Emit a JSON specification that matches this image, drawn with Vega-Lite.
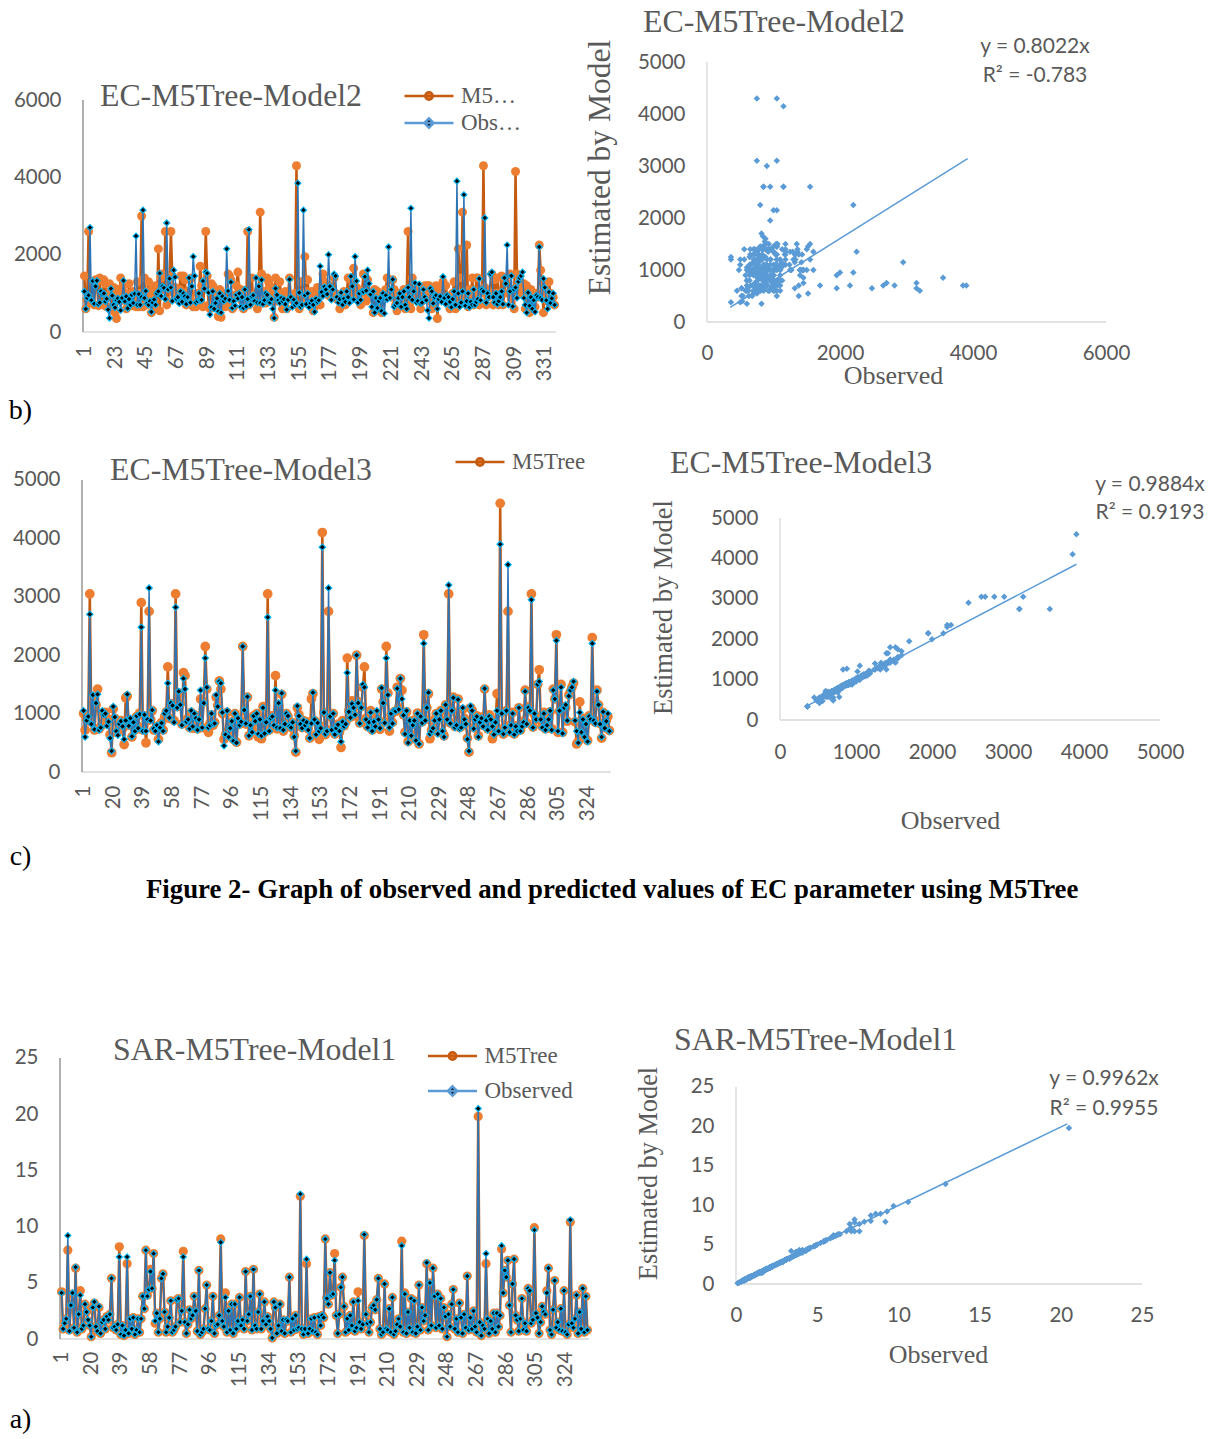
{
"$schema": "https://vega.github.io/schema/vega-lite/v6.json",
"background": "#ffffff",
"padding": 0,
"columns": 5,
"spacing": 0,
"bounds": "flush",
"align": "each",
"resolve": {"scale": {"shape": "independent", "fill": "independent", "stroke": "independent"}, "legend": {"shape": "independent", "fill": "independent", "stroke": "independent"}},
"config": {
 "view": {"stroke": null},
 "axis": {"grid": false, "ticks": false, "domain": false, "labelFont": "Lato", "labelFontSize": 20.5, "labelColor": "#595959", "titleFont": "Liberation Serif", "titleFontWeight": "normal", "titleColor": "#595959", "labelPadding": 22, "format": "d", "labelOverlap": false, "labelFlush": false, "labelBound": false},
 "legend": {"labelFont": "Liberation Serif", "labelFontSize": 23, "labelColor": "#595959", "padding": 0, "rowPadding": 0, "labelOffset": 6, "symbolSize": 2401, "offset": 0, "symbolStrokeWidth": 2.5}
},
"datasets": {
 "tb": [{"obs": 349, "fit": 280}, {"obs": 3919, "fit": 3144}],
 "tc": [{"obs": 380, "fit": 376}, {"obs": 3900, "fit": 3855}],
 "ta": [{"obs": 0.05, "fit": 0.05}, {"obs": 20.4, "fit": 20.32}],
 "d": [
{"idx":1,"ec":1050,"m2":1450,"m3":1000,"sar":4.1,"sm":4.2},
{"idx":2,"ec":600,"m2":600,"m3":720,"sar":0.9,"sm":0.9},
{"idx":3,"ec":880,"m2":820,"m3":900,"sar":1.4,"sm":1.5},
{"idx":4,"ec":950,"m2":2600,"m3":880,"sar":1.8,"sm":1.8},
{"idx":5,"ec":2700,"m2":750,"m3":3050,"sar":9.2,"sm":7.9},
{"idx":6,"ec":820,"m2":900,"m3":860,"sar":0.7,"sm":0.8},
{"idx":7,"ec":1320,"m2":1300,"m3":1250,"sar":3.0,"sm":3.0},
{"idx":8,"ec":730,"m2":700,"m3":720,"sar":4.1,"sm":4.0},
{"idx":9,"ec":1180,"m2":1350,"m3":1150,"sar":1.0,"sm":1.0},
{"idx":10,"ec":1330,"m2":1300,"m3":1420,"sar":6.4,"sm":6.3},
{"idx":11,"ec":720,"m2":680,"m3":740,"sar":0.6,"sm":0.6},
{"idx":12,"ec":760,"m2":1400,"m3":780,"sar":2.2,"sm":2.2},
{"idx":13,"ec":1050,"m2":720,"m3":1000,"sar":3.9,"sm":4.3},
{"idx":14,"ec":980,"m2":700,"m3":960,"sar":0.9,"sm":0.9},
{"idx":15,"ec":1000,"m2":1350,"m3":1020,"sar":1.2,"sm":1.2},
{"idx":16,"ec":790,"m2":1250,"m3":830,"sar":3.1,"sm":3.1},
{"idx":17,"ec":860,"m2":650,"m3":900,"sar":2.4,"sm":2.4},
{"idx":18,"ec":580,"m2":900,"m3":640,"sar":1.7,"sm":1.6},
{"idx":19,"ec":360,"m2":1250,"m3":330,"sar":1.2,"sm":1.2},
{"idx":20,"ec":1120,"m2":1050,"m3":1080,"sar":0.2,"sm":0.2},
{"idx":21,"ec":940,"m2":600,"m3":920,"sar":2.8,"sm":2.8},
{"idx":22,"ec":700,"m2":1150,"m3":680,"sar":3.3,"sm":3.2},
{"idx":23,"ec":630,"m2":500,"m3":700,"sar":1.1,"sm":1.1},
{"idx":24,"ec":820,"m2":350,"m3":800,"sar":0.7,"sm":0.7},
{"idx":25,"ec":870,"m2":1100,"m3":880,"sar":2.9,"sm":2.8},
{"idx":26,"ec":780,"m2":950,"m3":740,"sar":0.5,"sm":0.5},
{"idx":27,"ec":560,"m2":1400,"m3":470,"sar":1.5,"sm":1.5},
{"idx":28,"ec":880,"m2":820,"m3":1270,"sar":1.7,"sm":1.7},
{"idx":29,"ec":1330,"m2":1200,"m3":1300,"sar":0.9,"sm":0.9},
{"idx":30,"ec":790,"m2":1000,"m3":800,"sar":2.0,"sm":2.0},
{"idx":31,"ec":920,"m2":600,"m3":880,"sar":1.7,"sm":1.7},
{"idx":32,"ec":610,"m2":650,"m3":600,"sar":2.2,"sm":2.2},
{"idx":33,"ec":850,"m2":1250,"m3":860,"sar":5.4,"sm":5.4},
{"idx":34,"ec":700,"m2":1000,"m3":720,"sar":1.0,"sm":1.0},
{"idx":35,"ec":960,"m2":680,"m3":950,"sar":1.1,"sm":1.1},
{"idx":36,"ec":750,"m2":1050,"m3":780,"sar":0.8,"sm":0.8},
{"idx":37,"ec":990,"m2":900,"m3":1010,"sar":1.3,"sm":1.3},
{"idx":38,"ec":2480,"m2":650,"m3":2900,"sar":7.3,"sm":8.2},
{"idx":39,"ec":700,"m2":1300,"m3":720,"sar":0.4,"sm":0.4},
{"idx":40,"ec":980,"m2":650,"m3":960,"sar":1.2,"sm":1.2},
{"idx":41,"ec":700,"m2":1000,"m3":500,"sar":0.3,"sm":0.3},
{"idx":42,"ec":900,"m2":3000,"m3":880,"sar":0.8,"sm":0.8},
{"idx":43,"ec":3150,"m2":650,"m3":2750,"sar":7.3,"sm":6.7},
{"idx":44,"ec":880,"m2":1400,"m3":900,"sar":0.5,"sm":0.5},
{"idx":45,"ec":1060,"m2":700,"m3":1050,"sar":1.8,"sm":1.8},
{"idx":46,"ec":740,"m2":1050,"m3":720,"sar":0.9,"sm":0.9},
{"idx":47,"ec":700,"m2":1300,"m3":720,"sar":1.9,"sm":1.9},
{"idx":48,"ec":800,"m2":900,"m3":780,"sar":0.4,"sm":0.4},
{"idx":49,"ec":520,"m2":500,"m3":560,"sar":0.8,"sm":0.8},
{"idx":50,"ec":760,"m2":1100,"m3":780,"sar":1.8,"sm":1.8},
{"idx":51,"ec":840,"m2":800,"m3":850,"sar":0.6,"sm":0.6},
{"idx":52,"ec":700,"m2":1200,"m3":720,"sar":1.8,"sm":1.8},
{"idx":53,"ec":1000,"m2":600,"m3":950,"sar":3.8,"sm":3.8},
{"idx":54,"ec":1050,"m2":2150,"m3":1030,"sar":2.7,"sm":2.7},
{"idx":55,"ec":1520,"m2":550,"m3":1800,"sar":7.9,"sm":7.9},
{"idx":56,"ec":930,"m2":1400,"m3":920,"sar":3.8,"sm":3.9},
{"idx":57,"ec":1180,"m2":1500,"m3":1170,"sar":4.4,"sm":4.4},
{"idx":58,"ec":1140,"m2":1100,"m3":1150,"sar":6.0,"sm":6.2},
{"idx":59,"ec":850,"m2":2600,"m3":880,"sar":4.5,"sm":4.5},
{"idx":60,"ec":2820,"m2":700,"m3":3050,"sar":7.6,"sm":7.6},
{"idx":61,"ec":1100,"m2":800,"m3":1120,"sar":1.6,"sm":1.4},
{"idx":62,"ec":1380,"m2":1300,"m3":1350,"sar":2.3,"sm":2.3},
{"idx":63,"ec":1150,"m2":2600,"m3":1170,"sar":0.6,"sm":0.6},
{"idx":64,"ec":800,"m2":1450,"m3":820,"sar":1.8,"sm":1.8},
{"idx":65,"ec":1600,"m2":1000,"m3":1700,"sar":5.4,"sm":5.4},
{"idx":66,"ec":1420,"m2":1150,"m3":1650,"sar":5.8,"sm":5.8},
{"idx":67,"ec":860,"m2":1050,"m3":900,"sar":2.4,"sm":2.4},
{"idx":68,"ec":900,"m2":850,"m3":870,"sar":0.6,"sm":0.6},
{"idx":69,"ec":740,"m2":1100,"m3":760,"sar":1.1,"sm":1.1},
{"idx":70,"ec":1050,"m2":1450,"m3":1020,"sar":1.9,"sm":1.9},
{"idx":71,"ec":780,"m2":900,"m3":750,"sar":3.4,"sm":3.4},
{"idx":72,"ec":1000,"m2":1450,"m3":980,"sar":0.6,"sm":0.6},
{"idx":73,"ec":920,"m2":1350,"m3":900,"sar":0.8,"sm":0.8},
{"idx":74,"ec":720,"m2":700,"m3":740,"sar":1.1,"sm":1.1},
{"idx":75,"ec":900,"m2":1050,"m3":880,"sar":3.5,"sm":3.5},
{"idx":76,"ec":1400,"m2":900,"m3":1250,"sar":3.6,"sm":3.6},
{"idx":77,"ec":760,"m2":850,"m3":760,"sar":1.5,"sm":1.5},
{"idx":78,"ec":1180,"m2":1400,"m3":1200,"sar":2.5,"sm":2.5},
{"idx":79,"ec":1950,"m2":650,"m3":2150,"sar":7.3,"sm":7.8},
{"idx":80,"ec":1450,"m2":750,"m3":1420,"sar":1.5,"sm":1.5},
{"idx":81,"ec":760,"m2":650,"m3":680,"sar":0.5,"sm":0.5},
{"idx":82,"ec":800,"m2":1000,"m3":830,"sar":1.3,"sm":1.3},
{"idx":83,"ec":1000,"m2":800,"m3":980,"sar":2.6,"sm":2.6},
{"idx":84,"ec":820,"m2":1700,"m3":800,"sar":1.8,"sm":1.8},
{"idx":85,"ec":830,"m2":1200,"m3":850,"sar":2.1,"sm":2.1},
{"idx":86,"ec":1320,"m2":650,"m3":1280,"sar":3.8,"sm":3.8},
{"idx":87,"ec":1120,"m2":1150,"m3":1140,"sar":2.5,"sm":2.5},
{"idx":88,"ec":1550,"m2":2600,"m3":1560,"sar":0.7,"sm":0.7},
{"idx":89,"ec":1520,"m2":1450,"m3":1420,"sar":6.1,"sm":6.1},
{"idx":90,"ec":1020,"m2":700,"m3":1000,"sar":0.4,"sm":0.4},
{"idx":91,"ec":450,"m2":600,"m3":560,"sar":0.6,"sm":0.6},
{"idx":92,"ec":640,"m2":1250,"m3":640,"sar":0.9,"sm":0.9},
{"idx":93,"ec":1050,"m2":1200,"m3":1020,"sar":2.7,"sm":2.7},
{"idx":94,"ec":600,"m2":700,"m3":620,"sar":4.8,"sm":4.8},
{"idx":95,"ec":750,"m2":900,"m3":760,"sar":0.9,"sm":0.9},
{"idx":96,"ec":870,"m2":1000,"m3":860,"sar":0.8,"sm":0.8},
{"idx":97,"ec":530,"m2":400,"m3":560,"sar":1.6,"sm":1.6},
{"idx":98,"ec":1000,"m2":1100,"m3":1000,"sar":3.8,"sm":3.8},
{"idx":99,"ec":500,"m2":380,"m3":510,"sar":0.5,"sm":0.5},
{"idx":100,"ec":920,"m2":1000,"m3":900,"sar":1.2,"sm":1.2},
{"idx":101,"ec":800,"m2":850,"m3":820,"sar":1.3,"sm":1.3},
{"idx":102,"ec":860,"m2":650,"m3":870,"sar":2.1,"sm":2.1},
{"idx":103,"ec":2150,"m2":700,"m3":2150,"sar":8.6,"sm":8.9},
{"idx":104,"ec":1060,"m2":1500,"m3":1050,"sar":1.6,"sm":1.6},
{"idx":105,"ec":830,"m2":1450,"m3":820,"sar":1.1,"sm":1.1},
{"idx":106,"ec":1290,"m2":1350,"m3":1280,"sar":3.7,"sm":4.1},
{"idx":107,"ec":620,"m2":600,"m3":620,"sar":0.6,"sm":0.6},
{"idx":108,"ec":800,"m2":650,"m3":820,"sar":2.5,"sm":2.5},
{"idx":109,"ec":680,"m2":950,"m3":720,"sar":0.8,"sm":0.8},
{"idx":110,"ec":960,"m2":1200,"m3":960,"sar":3.1,"sm":3.1},
{"idx":111,"ec":870,"m2":1550,"m3":860,"sar":0.5,"sm":0.5},
{"idx":112,"ec":1000,"m2":1000,"m3":1000,"sar":3.1,"sm":3.1},
{"idx":113,"ec":650,"m2":1100,"m3":600,"sar":0.9,"sm":0.9},
{"idx":114,"ec":900,"m2":800,"m3":920,"sar":1.6,"sm":1.6},
{"idx":115,"ec":620,"m2":600,"m3":570,"sar":3.7,"sm":3.7},
{"idx":116,"ec":1100,"m2":1000,"m3":1120,"sar":1.2,"sm":1.2},
{"idx":117,"ec":660,"m2":700,"m3":680,"sar":1.7,"sm":1.7},
{"idx":118,"ec":850,"m2":2600,"m3":860,"sar":0.9,"sm":0.9},
{"idx":119,"ec":2650,"m2":700,"m3":3050,"sar":6.0,"sm":6.0},
{"idx":120,"ec":700,"m2":950,"m3":720,"sar":1.6,"sm":1.6},
{"idx":121,"ec":920,"m2":1400,"m3":900,"sar":2.2,"sm":2.2},
{"idx":122,"ec":950,"m2":800,"m3":960,"sar":3.8,"sm":3.8},
{"idx":123,"ec":800,"m2":900,"m3":780,"sar":0.8,"sm":0.8},
{"idx":124,"ec":1400,"m2":1000,"m3":1650,"sar":6.2,"sm":6.2},
{"idx":125,"ec":760,"m2":600,"m3":740,"sar":1.2,"sm":1.2},
{"idx":126,"ec":1180,"m2":1100,"m3":1150,"sar":0.9,"sm":0.9},
{"idx":127,"ec":750,"m2":3100,"m3":760,"sar":2.4,"sm":2.4},
{"idx":128,"ec":1350,"m2":1500,"m3":1330,"sar":4.0,"sm":4.0},
{"idx":129,"ec":720,"m2":750,"m3":700,"sar":0.9,"sm":0.9},
{"idx":130,"ec":820,"m2":1050,"m3":800,"sar":1.6,"sm":1.6},
{"idx":131,"ec":1000,"m2":750,"m3":1000,"sar":3.3,"sm":3.3},
{"idx":132,"ec":960,"m2":1400,"m3":950,"sar":1.3,"sm":1.3},
{"idx":133,"ec":780,"m2":1300,"m3":790,"sar":2.0,"sm":2.0},
{"idx":134,"ec":760,"m2":1200,"m3":760,"sar":1.6,"sm":1.6},
{"idx":135,"ec":850,"m2":900,"m3":840,"sar":0.9,"sm":0.9},
{"idx":136,"ec":600,"m2":1050,"m3":620,"sar":0.1,"sm":0.1},
{"idx":137,"ec":360,"m2":380,"m3":340,"sar":3.3,"sm":3.3},
{"idx":138,"ec":1130,"m2":1400,"m3":1100,"sar":2.8,"sm":2.8},
{"idx":139,"ec":960,"m2":800,"m3":980,"sar":0.5,"sm":0.5},
{"idx":140,"ec":820,"m2":1000,"m3":810,"sar":1.2,"sm":1.2},
{"idx":141,"ec":750,"m2":1300,"m3":760,"sar":3.1,"sm":3.1},
{"idx":142,"ec":880,"m2":900,"m3":880,"sar":0.7,"sm":0.7},
{"idx":143,"ec":800,"m2":600,"m3":790,"sar":1.7,"sm":1.7},
{"idx":144,"ec":850,"m2":850,"m3":860,"sar":0.5,"sm":0.5},
{"idx":145,"ec":720,"m2":1050,"m3":740,"sar":1.7,"sm":1.6},
{"idx":146,"ec":580,"m2":600,"m3":580,"sar":1.6,"sm":1.6},
{"idx":147,"ec":830,"m2":1000,"m3":1250,"sar":5.5,"sm":5.5},
{"idx":148,"ec":1360,"m2":1400,"m3":1340,"sar":0.6,"sm":0.6},
{"idx":149,"ec":900,"m2":850,"m3":880,"sar":1.8,"sm":1.8},
{"idx":150,"ec":640,"m2":900,"m3":640,"sar":0.8,"sm":0.8},
{"idx":151,"ec":840,"m2":800,"m3":830,"sar":2.1,"sm":2.1},
{"idx":152,"ec":700,"m2":1000,"m3":560,"sar":0.9,"sm":0.9},
{"idx":153,"ec":750,"m2":4300,"m3":780,"sar":1.0,"sm":1.0},
{"idx":154,"ec":3850,"m2":700,"m3":4100,"sar":12.9,"sm":12.7},
{"idx":155,"ec":1020,"m2":600,"m3":1020,"sar":0.9,"sm":0.9},
{"idx":156,"ec":650,"m2":1300,"m3":640,"sar":0.4,"sm":0.4},
{"idx":157,"ec":700,"m2":1000,"m3":720,"sar":0.9,"sm":0.9},
{"idx":158,"ec":3150,"m2":750,"m3":2750,"sar":7.1,"sm":6.7},
{"idx":159,"ec":950,"m2":1950,"m3":950,"sar":0.5,"sm":0.5},
{"idx":160,"ec":720,"m2":1050,"m3":700,"sar":0.9,"sm":0.9},
{"idx":161,"ec":1000,"m2":1350,"m3":1000,"sar":1.8,"sm":1.8},
{"idx":162,"ec":640,"m2":800,"m3":650,"sar":0.7,"sm":0.7},
{"idx":163,"ec":750,"m2":900,"m3":760,"sar":1.9,"sm":1.9},
{"idx":164,"ec":810,"m2":1050,"m3":820,"sar":0.6,"sm":0.6},
{"idx":165,"ec":700,"m2":550,"m3":680,"sar":0.4,"sm":0.4},
{"idx":166,"ec":520,"m2":650,"m3":420,"sar":2.0,"sm":2.0},
{"idx":167,"ec":860,"m2":900,"m3":880,"sar":1.2,"sm":1.2},
{"idx":168,"ec":780,"m2":1150,"m3":790,"sar":2.1,"sm":2.1},
{"idx":169,"ec":820,"m2":1000,"m3":850,"sar":1.9,"sm":1.9},
{"idx":170,"ec":1700,"m2":700,"m3":1950,"sar":8.9,"sm":8.9},
{"idx":171,"ec":1030,"m2":1100,"m3":1050,"sar":3.6,"sm":3.7},
{"idx":172,"ec":930,"m2":1500,"m3":940,"sar":3.1,"sm":3.1},
{"idx":173,"ec":1170,"m2":1300,"m3":1220,"sar":5.9,"sm":5.9},
{"idx":174,"ec":1100,"m2":1200,"m3":1100,"sar":3.9,"sm":3.9},
{"idx":175,"ec":980,"m2":1000,"m3":960,"sar":4.0,"sm":4.0},
{"idx":176,"ec":2000,"m2":950,"m3":2000,"sar":7.0,"sm":7.6},
{"idx":177,"ec":1180,"m2":1200,"m3":1200,"sar":2.1,"sm":2.1},
{"idx":178,"ec":830,"m2":900,"m3":840,"sar":0.5,"sm":0.5},
{"idx":179,"ec":1100,"m2":1050,"m3":1120,"sar":2.2,"sm":2.2},
{"idx":180,"ec":1500,"m2":1400,"m3":1450,"sar":4.6,"sm":4.6},
{"idx":181,"ec":1450,"m2":1000,"m3":1800,"sar":5.5,"sm":5.5},
{"idx":182,"ec":900,"m2":850,"m3":920,"sar":2.9,"sm":2.9},
{"idx":183,"ec":760,"m2":900,"m3":780,"sar":0.6,"sm":0.6},
{"idx":184,"ec":850,"m2":600,"m3":870,"sar":1.8,"sm":1.8},
{"idx":185,"ec":1020,"m2":700,"m3":1050,"sar":0.8,"sm":0.8},
{"idx":186,"ec":700,"m2":900,"m3":720,"sar":2.1,"sm":2.1},
{"idx":187,"ec":860,"m2":1050,"m3":880,"sar":1.2,"sm":1.2},
{"idx":188,"ec":780,"m2":700,"m3":760,"sar":3.3,"sm":3.3},
{"idx":189,"ec":1050,"m2":1000,"m3":1000,"sar":0.7,"sm":0.7},
{"idx":190,"ec":900,"m2":1400,"m3":880,"sar":1.0,"sm":1.0},
{"idx":191,"ec":750,"m2":900,"m3":730,"sar":3.4,"sm":4.2},
{"idx":192,"ec":1440,"m2":1000,"m3":1420,"sar":1.5,"sm":1.5},
{"idx":193,"ec":1180,"m2":1300,"m3":1200,"sar":0.9,"sm":0.9},
{"idx":194,"ec":840,"m2":1650,"m3":860,"sar":1.3,"sm":1.3},
{"idx":195,"ec":1950,"m2":900,"m3":2150,"sar":9.3,"sm":9.2},
{"idx":196,"ec":1320,"m2":1150,"m3":1350,"sar":2.2,"sm":2.2},
{"idx":197,"ec":760,"m2":1000,"m3":700,"sar":1.4,"sm":1.4},
{"idx":198,"ec":1000,"m2":800,"m3":980,"sar":0.6,"sm":0.6},
{"idx":199,"ec":830,"m2":700,"m3":850,"sar":1.5,"sm":1.5},
{"idx":200,"ec":1050,"m2":1050,"m3":1030,"sar":2.8,"sm":2.8},
{"idx":201,"ec":1040,"m2":1500,"m3":1040,"sar":3.0,"sm":3.0},
{"idx":202,"ec":1430,"m2":1000,"m3":1450,"sar":2.6,"sm":2.6},
{"idx":203,"ec":1070,"m2":800,"m3":1100,"sar":3.5,"sm":3.5},
{"idx":204,"ec":1600,"m2":1350,"m3":1600,"sar":5.4,"sm":5.4},
{"idx":205,"ec":1250,"m2":1000,"m3":1400,"sar":0.9,"sm":0.9},
{"idx":206,"ec":970,"m2":900,"m3":980,"sar":0.4,"sm":0.4},
{"idx":207,"ec":650,"m2":1000,"m3":680,"sar":0.6,"sm":0.6},
{"idx":208,"ec":1050,"m2":500,"m3":1030,"sar":4.9,"sm":4.9},
{"idx":209,"ec":500,"m2":1100,"m3":520,"sar":0.9,"sm":0.9},
{"idx":210,"ec":880,"m2":1050,"m3":870,"sar":0.8,"sm":0.8},
{"idx":211,"ec":620,"m2":1050,"m3":640,"sar":2.7,"sm":2.7},
{"idx":212,"ec":800,"m2":600,"m3":820,"sar":0.6,"sm":0.6},
{"idx":213,"ec":880,"m2":850,"m3":890,"sar":3.7,"sm":3.7},
{"idx":214,"ec":540,"m2":500,"m3":560,"sar":0.4,"sm":0.4},
{"idx":215,"ec":1000,"m2":900,"m3":1010,"sar":0.7,"sm":0.7},
{"idx":216,"ec":480,"m2":1000,"m3":480,"sar":1.3,"sm":1.3},
{"idx":217,"ec":950,"m2":1100,"m3":940,"sar":1.8,"sm":1.8},
{"idx":218,"ec":840,"m2":1400,"m3":860,"sar":1.1,"sm":1.1},
{"idx":219,"ec":2200,"m2":950,"m3":2350,"sar":8.3,"sm":8.7},
{"idx":220,"ec":880,"m2":1000,"m3":900,"sar":0.6,"sm":0.6},
{"idx":221,"ec":1100,"m2":900,"m3":1100,"sar":4.0,"sm":4.1},
{"idx":222,"ec":1360,"m2":1350,"m3":1340,"sar":0.5,"sm":0.5},
{"idx":223,"ec":650,"m2":1100,"m3":570,"sar":2.4,"sm":2.4},
{"idx":224,"ec":700,"m2":700,"m3":720,"sar":1.0,"sm":1.0},
{"idx":225,"ec":750,"m2":550,"m3":760,"sar":3.6,"sm":3.6},
{"idx":226,"ec":880,"m2":1000,"m3":900,"sar":0.6,"sm":0.6},
{"idx":227,"ec":1000,"m2":800,"m3":1000,"sar":3.4,"sm":3.4},
{"idx":228,"ec":650,"m2":1000,"m3":680,"sar":0.5,"sm":0.5},
{"idx":229,"ec":900,"m2":900,"m3":920,"sar":1.1,"sm":1.1},
{"idx":230,"ec":1050,"m2":1100,"m3":1050,"sar":4.8,"sm":4.8},
{"idx":231,"ec":700,"m2":600,"m3":680,"sar":0.8,"sm":0.8},
{"idx":232,"ec":600,"m2":1000,"m3":620,"sar":2.8,"sm":2.8},
{"idx":233,"ec":1150,"m2":2600,"m3":1150,"sar":1.6,"sm":1.6},
{"idx":234,"ec":900,"m2":700,"m3":910,"sar":2.1,"sm":2.1},
{"idx":235,"ec":3200,"m2":600,"m3":3050,"sar":6.8,"sm":6.7},
{"idx":236,"ec":830,"m2":1400,"m3":840,"sar":0.8,"sm":0.8},
{"idx":237,"ec":1050,"m2":1200,"m3":1050,"sar":5.0,"sm":5.0},
{"idx":238,"ec":1270,"m2":1000,"m3":1280,"sar":1.2,"sm":1.2},
{"idx":239,"ec":760,"m2":850,"m3":780,"sar":6.3,"sm":6.3},
{"idx":240,"ec":800,"m2":950,"m3":820,"sar":3.8,"sm":3.8},
{"idx":241,"ec":1240,"m2":1100,"m3":1250,"sar":1.0,"sm":1.0},
{"idx":242,"ec":740,"m2":600,"m3":760,"sar":4.0,"sm":4.0},
{"idx":243,"ec":760,"m2":800,"m3":780,"sar":1.2,"sm":1.2},
{"idx":244,"ec":1100,"m2":1000,"m3":1070,"sar":3.6,"sm":3.6},
{"idx":245,"ec":900,"m2":1200,"m3":920,"sar":0.9,"sm":0.9},
{"idx":246,"ec":820,"m2":950,"m3":840,"sar":2.8,"sm":2.8},
{"idx":247,"ec":560,"m2":1200,"m3":580,"sar":2.0,"sm":2.0},
{"idx":248,"ec":360,"m2":1200,"m3":340,"sar":0.2,"sm":0.2},
{"idx":249,"ec":1130,"m2":800,"m3":1100,"sar":2.2,"sm":2.2},
{"idx":250,"ec":1050,"m2":600,"m3":1060,"sar":1.1,"sm":1.1},
{"idx":251,"ec":740,"m2":700,"m3":760,"sar":3.1,"sm":3.1},
{"idx":252,"ec":900,"m2":1000,"m3":920,"sar":4.4,"sm":4.4},
{"idx":253,"ec":950,"m2":1200,"m3":960,"sar":0.9,"sm":0.9},
{"idx":254,"ec":600,"m2":350,"m3":620,"sar":1.8,"sm":1.8},
{"idx":255,"ec":850,"m2":1100,"m3":860,"sar":0.6,"sm":0.6},
{"idx":256,"ec":920,"m2":1050,"m3":940,"sar":3.2,"sm":3.2},
{"idx":257,"ec":780,"m2":950,"m3":800,"sar":1.9,"sm":1.9},
{"idx":258,"ec":1430,"m2":1300,"m3":1420,"sar":0.5,"sm":0.5},
{"idx":259,"ec":880,"m2":900,"m3":900,"sar":2.2,"sm":2.2},
{"idx":260,"ec":720,"m2":1200,"m3":740,"sar":1.0,"sm":1.0},
{"idx":261,"ec":950,"m2":900,"m3":980,"sar":5.6,"sm":5.6},
{"idx":262,"ec":900,"m2":800,"m3":910,"sar":0.8,"sm":0.8},
{"idx":263,"ec":780,"m2":600,"m3":570,"sar":1.9,"sm":1.9},
{"idx":264,"ec":640,"m2":950,"m3":660,"sar":0.9,"sm":0.9},
{"idx":265,"ec":850,"m2":1000,"m3":880,"sar":2.5,"sm":2.5},
{"idx":266,"ec":1050,"m2":1300,"m3":1340,"sar":1.1,"sm":1.1},
{"idx":267,"ec":700,"m2":600,"m3":720,"sar":0.6,"sm":0.6},
{"idx":268,"ec":3900,"m2":700,"m3":4600,"sar":20.5,"sm":19.8},
{"idx":269,"ec":1000,"m2":2150,"m3":1020,"sar":1.5,"sm":1.5},
{"idx":270,"ec":650,"m2":1400,"m3":650,"sar":0.3,"sm":0.3},
{"idx":271,"ec":760,"m2":900,"m3":780,"sar":1.2,"sm":1.2},
{"idx":272,"ec":1050,"m2":3100,"m3":1050,"sar":0.9,"sm":0.9},
{"idx":273,"ec":3550,"m2":850,"m3":2750,"sar":7.6,"sm":6.7},
{"idx":274,"ec":680,"m2":1000,"m3":690,"sar":1.8,"sm":1.8},
{"idx":275,"ec":800,"m2":2250,"m3":820,"sar":0.5,"sm":0.5},
{"idx":276,"ec":1000,"m2":650,"m3":1020,"sar":1.6,"sm":1.6},
{"idx":277,"ec":640,"m2":1100,"m3":650,"sar":0.9,"sm":0.9},
{"idx":278,"ec":780,"m2":900,"m3":790,"sar":2.3,"sm":2.3},
{"idx":279,"ec":700,"m2":1400,"m3":700,"sar":0.6,"sm":0.6},
{"idx":280,"ec":1100,"m2":700,"m3":1100,"sar":2.3,"sm":2.3},
{"idx":281,"ec":700,"m2":1000,"m3":720,"sar":1.1,"sm":1.1},
{"idx":282,"ec":780,"m2":1400,"m3":800,"sar":2.1,"sm":2.1},
{"idx":283,"ec":850,"m2":1400,"m3":870,"sar":8.3,"sm":8.0},
{"idx":284,"ec":1380,"m2":700,"m3":1400,"sar":4.1,"sm":4.1},
{"idx":285,"ec":820,"m2":1000,"m3":840,"sar":6.1,"sm":6.1},
{"idx":286,"ec":1100,"m2":1100,"m3":1120,"sar":5.5,"sm":5.5},
{"idx":287,"ec":1050,"m2":4300,"m3":1050,"sar":7.0,"sm":7.0},
{"idx":288,"ec":2950,"m2":1150,"m3":3050,"sar":3.0,"sm":3.0},
{"idx":289,"ec":760,"m2":700,"m3":770,"sar":0.6,"sm":0.6},
{"idx":290,"ec":1000,"m2":900,"m3":980,"sar":4.9,"sm":4.9},
{"idx":291,"ec":900,"m2":1050,"m3":900,"sar":7.1,"sm":7.1},
{"idx":292,"ec":1500,"m2":1000,"m3":1500,"sar":2.1,"sm":2.1},
{"idx":293,"ec":1550,"m2":1500,"m3":1750,"sar":1.7,"sm":1.7},
{"idx":294,"ec":900,"m2":700,"m3":880,"sar":0.7,"sm":0.7},
{"idx":295,"ec":760,"m2":1350,"m3":780,"sar":1.8,"sm":1.8},
{"idx":296,"ec":1000,"m2":1000,"m3":1020,"sar":3.6,"sm":3.6},
{"idx":297,"ec":720,"m2":1400,"m3":740,"sar":0.8,"sm":0.8},
{"idx":298,"ec":800,"m2":700,"m3":810,"sar":1.4,"sm":1.4},
{"idx":299,"ec":900,"m2":1000,"m3":920,"sar":0.7,"sm":0.7},
{"idx":300,"ec":1050,"m2":1450,"m3":1030,"sar":4.5,"sm":4.5},
{"idx":301,"ec":720,"m2":700,"m3":740,"sar":4.3,"sm":4.2},
{"idx":302,"ec":1400,"m2":1000,"m3":1420,"sar":1.4,"sm":1.4},
{"idx":303,"ec":1250,"m2":1350,"m3":1250,"sar":1.7,"sm":1.7},
{"idx":304,"ec":2250,"m2":1350,"m3":2350,"sar":9.7,"sm":9.9},
{"idx":305,"ec":700,"m2":1000,"m3":680,"sar":2.3,"sm":2.3},
{"idx":306,"ec":1050,"m2":1500,"m3":1040,"sar":1.9,"sm":1.9},
{"idx":307,"ec":1450,"m2":850,"m3":1500,"sar":0.5,"sm":0.5},
{"idx":308,"ec":660,"m2":1100,"m3":680,"sar":1.5,"sm":1.5},
{"idx":309,"ec":1100,"m2":600,"m3":1120,"sar":2.9,"sm":2.9},
{"idx":310,"ec":1150,"m2":4150,"m3":1100,"sar":2.4,"sm":2.4},
{"idx":311,"ec":880,"m2":1500,"m3":870,"sar":2.2,"sm":2.2},
{"idx":312,"ec":1300,"m2":1200,"m3":1320,"sar":4.1,"sm":4.3},
{"idx":313,"ec":1400,"m2":1000,"m3":1380,"sar":6.3,"sm":6.3},
{"idx":314,"ec":1450,"m2":1000,"m3":1450,"sar":0.8,"sm":0.8},
{"idx":315,"ec":1550,"m2":1200,"m3":1520,"sar":0.4,"sm":0.4},
{"idx":316,"ec":880,"m2":1250,"m3":860,"sar":2.6,"sm":2.6},
{"idx":317,"ec":700,"m2":600,"m3":480,"sar":5.2,"sm":5.2},
{"idx":318,"ec":500,"m2":1200,"m3":520,"sar":1.0,"sm":1.0},
{"idx":319,"ec":1020,"m2":1000,"m3":1200,"sar":1.5,"sm":1.5},
{"idx":320,"ec":680,"m2":500,"m3":700,"sar":0.8,"sm":0.8},
{"idx":321,"ec":900,"m2":1100,"m3":920,"sar":2.7,"sm":2.7},
{"idx":322,"ec":600,"m2":800,"m3":620,"sar":0.7,"sm":0.7},
{"idx":323,"ec":820,"m2":1000,"m3":840,"sar":4.3,"sm":4.3},
{"idx":324,"ec":520,"m2":650,"m3":540,"sar":0.6,"sm":0.6},
{"idx":325,"ec":950,"m2":1000,"m3":960,"sar":0.4,"sm":0.4},
{"idx":326,"ec":900,"m2":900,"m3":920,"sar":1.3,"sm":1.3},
{"idx":327,"ec":2200,"m2":2250,"m3":2300,"sar":10.6,"sm":10.4},
{"idx":328,"ec":880,"m2":1600,"m3":900,"sar":1.4,"sm":1.4},
{"idx":329,"ec":830,"m2":1300,"m3":850,"sar":1.0,"sm":1.0},
{"idx":330,"ec":1380,"m2":500,"m3":1400,"sar":1.8,"sm":1.8},
{"idx":331,"ec":1150,"m2":1100,"m3":1150,"sar":3.9,"sm":3.9},
{"idx":332,"ec":820,"m2":900,"m3":830,"sar":0.5,"sm":0.5},
{"idx":333,"ec":600,"m2":800,"m3":580,"sar":2.4,"sm":2.4},
{"idx":334,"ec":1030,"m2":1300,"m3":1020,"sar":0.9,"sm":0.9},
{"idx":335,"ec":750,"m2":1000,"m3":760,"sar":4.5,"sm":4.5},
{"idx":336,"ec":870,"m2":750,"m3":880,"sar":0.6,"sm":0.6},
{"idx":337,"ec":1000,"m2":900,"m3":950,"sar":3.8,"sm":3.8},
{"idx":338,"ec":700,"m2":700,"m3":710,"sar":0.8,"sm":0.8}
 ]
},
"concat": [
 {"width": 60, "height": 10, "data": {"values": []}, "mark": "point"},
 {"width": 1, "height": 1, "data": {"values": []}, "mark": "point"},
 {"width": 29, "height": 1, "data": {"values": []}, "mark": "point"},
 {"width": 1, "height": 1, "data": {"values": []}, "mark": "point"},
 {"width": 57, "height": 1, "data": {"values": []}, "mark": "point"},

 {"width": 1, "height": 1, "data": {"values": []}, "mark": "point"},
 {"width": 496, "height": 322,
  "layer": [
   {"data": {"values": [{}]}, "mark": {"type": "rule", "color": "#d9d9d9", "strokeWidth": 1.3}, "encoding": {"x": {"datum": 0, "type": "quantitative"}, "x2": {"datum": 339}, "y": {"datum": 0, "type": "quantitative"}}},
   {"data": {"values": [{}]}, "mark": {"type": "rule", "color": "#868686", "strokeWidth": 1.3}, "encoding": {"x": {"datum": 0, "type": "quantitative"}, "y": {"datum": 0, "type": "quantitative"}, "y2": {"datum": 6000}}},
   {"data": {"name": "d"}, "mark": {"type": "line", "color": "#C55A11", "strokeWidth": 2.5},
    "encoding": {
     "x": {"field": "idx", "type": "quantitative", "scale": {"domain": [-16.48, 339], "nice": false, "zero": false},
       "axis": {"values": [1,23,45,67,89,111,133,155,177,199,221,243,265,287,309,331], "tickCount": 60, "labelAngle": -90, "labelAlign": "right", "labelBaseline": "middle", "labelPadding": 13, "labelOverlap": false, "labelFlush": false, "labelBound": false, "title": null}},
     "y": {"field": "m2", "type": "quantitative", "scale": {"domain": [0, 8327.6], "nice": false, "zero": false}, "axis": {"values": [0,2000,4000,6000], "tickCount": 20, "title": null, "offset": -23}}}},
   {"data": {"name": "d"}, "mark": {"type": "point", "shape": "circle", "filled": true, "size": 80, "opacity": 1, "color": "#ED7D31", "strokeWidth": 0},
    "encoding": {"x": {"field": "idx", "type": "quantitative"}, "y": {"field": "m2", "type": "quantitative"}}},
   {"data": {"name": "d"}, "mark": {"type": "line", "color": "#2E75B6", "strokeWidth": 1.5},
    "encoding": {"x": {"field": "idx", "type": "quantitative"}, "y": {"field": "ec", "type": "quantitative"}}},
   {"data": {"name": "d"}, "mark": {"type": "point", "shape": "diamond", "filled": true, "size": 36, "opacity": 1, "color": "#000000", "stroke": "#00B0F0", "strokeWidth": 1.2},
    "encoding": {"x": {"field": "idx", "type": "quantitative"}, "y": {"field": "ec", "type": "quantitative"}}},
   {"data": {"values": []}, "mark": {"type": "point", "filled": true, "opacity": 1, "strokeWidth": 2.5},
    "encoding": {
     "shape": {"field": "s", "type": "nominal", "scale": {"domain": ["M5Tree", "Observed"], "range": ["M-1,0L1,0M0.15,0A0.15,0.15,0,1,1,-0.15,0A0.15,0.15,0,1,1,0.15,0Z", "M-1,0L1,0M0,-0.19L0.19,0L0,0.19L-0.19,0Z"]},
       "legend": {"title": null, "orient": "none", "legendX": 343, "legendY": 72.5, "direction": "vertical", "clipHeight": 27, "symbolSize": 2401, "labelExpr": "datum.value === 'M5Tree' ? 'M5…' : 'Obs…'"}},
     "fill": {"field": "s", "type": "nominal", "scale": {"domain": ["M5Tree", "Observed"], "range": ["#ED7D31", "#000000"]}},
     "stroke": {"field": "s", "type": "nominal", "scale": {"domain": ["M5Tree", "Observed"], "range": ["#C55A11", "#5B9BD5"]}}}},
   {"data": {"values": [{}]}, "mark": {"type": "text", "text": "EC-M5Tree-Model2", "font": "Liberation Serif", "fontSize": 31.8, "color": "#595959", "align": "left", "baseline": "middle"},
    "encoding": {"x": {"datum": 12.18, "type": "quantitative"}, "y": {"datum": 6103, "type": "quantitative"}}}
  ]},
 {"width": 1, "height": 1, "data": {"values": []}, "mark": "point"},
 {"width": 466, "height": 312,
  "layer": [
   {"data": {"values": [{}]}, "mark": {"type": "rule", "color": "#d9d9d9", "strokeWidth": 1.3}, "encoding": {"x": {"datum": 0, "type": "quantitative"}, "x2": {"datum": 6000}, "y": {"datum": 0, "type": "quantitative"}}},
   {"data": {"values": [{}]}, "mark": {"type": "rule", "color": "#d9d9d9", "strokeWidth": 1.3}, "encoding": {"x": {"datum": 0, "type": "quantitative"}, "y": {"datum": 0, "type": "quantitative"}, "y2": {"datum": 5000}}},
   {"data": {"name": "d"}, "mark": {"type": "point", "shape": "diamond", "filled": true, "color": "#5B9BD5", "size": 42, "opacity": 1},
    "encoding": {
     "x": {"field": "ec", "type": "quantitative", "scale": {"domain": [-1007.5, 6000], "nice": false, "zero": false}, "axis": {"values": [0,2000,4000,6000], "tickCount": 20, "title": "Observed", "titleFontSize": 26, "titleX": 253, "titleY": 53, "titleBaseline": "middle", "titleAlign": "center", "labelPadding": 21, "labelFlush": false}},
     "y": {"field": "m2", "type": "quantitative", "scale": {"domain": [0, 6000], "nice": false, "zero": false}, "axis": {"values": [0,1000,2000,3000,4000,5000], "tickCount": 20, "title": "Estimated by Model", "titleFontSize": 31.5, "titleX": -107, "titleY": 157, "titleBaseline": "middle", "titleAlign": "center", "offset": -67}}}},
   {"data": {"name": "tb"}, "mark": {"type": "line", "color": "#5B9BD5", "strokeWidth": 1.5},
    "encoding": {"x": {"field": "obs", "type": "quantitative"}, "y": {"field": "fit", "type": "quantitative"}}},
   {"data": {"values": [{}]}, "mark": {"type": "text", "text": "EC-M5Tree-Model2", "font": "Liberation Serif", "fontSize": 31.8, "color": "#595959", "align": "left", "baseline": "middle"},
    "encoding": {"x": {"datum": -962.4, "type": "quantitative"}, "y": {"datum": 5769, "type": "quantitative"}}},
   {"data": {"values": [{}]}, "mark": {"type": "text", "text": ["y = 0.8022x", "R² = -0.783"], "font": "Lato", "fontSize": 21, "lineHeight": 29, "color": "#595959", "align": "center", "baseline": "middle"},
    "encoding": {"x": {"datum": 4932, "type": "quantitative"}, "y": {"datum": 5279, "type": "quantitative"}}}
  ]},
 {"width": 1, "height": 1, "data": {"values": []}, "mark": "point"},

 {"width": 41, "height": 108, "data": {"values": [{"t": "b)"}]}, "mark": {"type": "text", "font": "Liberation Serif", "fontSize": 28, "color": "#000000", "baseline": "middle", "dy": 25}, "encoding": {"text": {"field": "t"}}},
 {"width": 1, "height": 1, "data": {"values": []}, "mark": "point"},
 {"width": 1, "height": 1, "data": {"values": []}, "mark": "point"},
 {"width": 1, "height": 1, "data": {"values": []}, "mark": "point"},
 {"width": 1, "height": 1, "data": {"values": []}, "mark": "point"},

 {"width": 1, "height": 1, "data": {"values": []}, "mark": "point"},
 {"width": 551, "height": 332,
  "layer": [
   {"data": {"values": [{}]}, "mark": {"type": "rule", "color": "#d9d9d9", "strokeWidth": 1.3}, "encoding": {"x": {"datum": 0, "type": "quantitative"}, "x2": {"datum": 339}, "y": {"datum": 0, "type": "quantitative"}}},
   {"data": {"values": [{}]}, "mark": {"type": "rule", "color": "#868686", "strokeWidth": 1.3}, "encoding": {"x": {"datum": 0, "type": "quantitative"}, "y": {"datum": 0, "type": "quantitative"}, "y2": {"datum": 5000}}},
   {"data": {"name": "d"}, "mark": {"type": "line", "color": "#C55A11", "strokeWidth": 2.5},
    "encoding": {
     "x": {"field": "idx", "type": "quantitative", "scale": {"domain": [-14.1, 339], "nice": false, "zero": false},
       "axis": {"values": [1,20,39,58,77,96,115,134,153,172,191,210,229,248,267,286,305,324], "tickCount": 60, "labelAngle": -90, "labelAlign": "right", "labelBaseline": "middle", "labelPadding": 13, "labelOverlap": false, "labelFlush": false, "labelBound": false, "title": null}},
     "y": {"field": "m3", "type": "quantitative", "scale": {"domain": [0, 5684.9], "nice": false, "zero": false}, "axis": {"values": [0,1000,2000,3000,4000,5000], "tickCount": 20, "title": null, "offset": -22}}}},
   {"data": {"name": "d"}, "mark": {"type": "point", "shape": "circle", "filled": true, "size": 95, "opacity": 1, "color": "#ED7D31", "strokeWidth": 0},
    "encoding": {"x": {"field": "idx", "type": "quantitative"}, "y": {"field": "m3", "type": "quantitative"}}},
   {"data": {"name": "d"}, "mark": {"type": "line", "color": "#2E75B6", "strokeWidth": 1.5},
    "encoding": {"x": {"field": "idx", "type": "quantitative"}, "y": {"field": "ec", "type": "quantitative"}}},
   {"data": {"name": "d"}, "mark": {"type": "point", "shape": "diamond", "filled": true, "size": 40, "opacity": 1, "color": "#000000", "stroke": "#00B0F0", "strokeWidth": 1.2},
    "encoding": {"x": {"field": "idx", "type": "quantitative"}, "y": {"field": "ec", "type": "quantitative"}}},
   {"data": {"values": []}, "mark": {"type": "point", "filled": true, "opacity": 1, "strokeWidth": 2.5},
    "encoding": {
     "shape": {"field": "s", "type": "nominal", "scale": {"domain": ["M5Tree", "Observed"], "range": ["M-1,0L1,0M0.15,0A0.15,0.15,0,1,1,-0.15,0A0.15,0.15,0,1,1,0.15,0Z", "M-1,0L1,0M0,-0.19L0.19,0L0,0.19L-0.19,0Z"]},
       "legend": {"title": null, "orient": "none", "legendX": 394, "legendY": 8.5, "direction": "vertical", "clipHeight": 27, "symbolSize": 2401, "values": ["M5Tree"]}},
     "fill": {"field": "s", "type": "nominal", "scale": {"domain": ["M5Tree", "Observed"], "range": ["#ED7D31", "#000000"]}},
     "stroke": {"field": "s", "type": "nominal", "scale": {"domain": ["M5Tree", "Observed"], "range": ["#C55A11", "#5B9BD5"]}}}},
   {"data": {"values": [{}]}, "mark": {"type": "text", "text": "EC-M5Tree-Model3", "font": "Liberation Serif", "fontSize": 31.8, "color": "#595959", "align": "left", "baseline": "middle"},
    "encoding": {"x": {"datum": 17.94, "type": "quantitative"}, "y": {"datum": 5171, "type": "quantitative"}}}
  ]},
 {"width": 1, "height": 1, "data": {"values": []}, "mark": "point"},
 {"width": 520, "height": 280,
  "layer": [
   {"data": {"values": [{}]}, "mark": {"type": "rule", "color": "#d9d9d9", "strokeWidth": 1.3}, "encoding": {"x": {"datum": 0, "type": "quantitative"}, "x2": {"datum": 5000}, "y": {"datum": 0, "type": "quantitative"}}},
   {"data": {"values": [{}]}, "mark": {"type": "rule", "color": "#d9d9d9", "strokeWidth": 1.3}, "encoding": {"x": {"datum": 0, "type": "quantitative"}, "y": {"datum": 0, "type": "quantitative"}, "y2": {"datum": 5000}}},
   {"data": {"name": "d"}, "mark": {"type": "point", "shape": "diamond", "filled": true, "color": "#5B9BD5", "size": 42, "opacity": 1},
    "encoding": {
     "x": {"field": "ec", "type": "quantitative", "scale": {"domain": [-1842.1, 5000], "nice": false, "zero": false}, "axis": {"values": [0,1000,2000,3000,4000,5000], "tickCount": 20, "title": "Observed", "titleFontSize": 26, "titleX": 310, "titleY": 100, "titleBaseline": "middle", "titleAlign": "center", "labelPadding": 22, "labelFlush": false}},
     "y": {"field": "m3", "type": "quantitative", "scale": {"domain": [0, 6930.7], "nice": false, "zero": false}, "axis": {"values": [0,1000,2000,3000,4000,5000], "tickCount": 20, "title": "Estimated by Model", "titleFontSize": 26.5, "titleX": -117, "titleY": 167, "titleBaseline": "middle", "titleAlign": "center", "offset": -140}}}},
   {"data": {"name": "tc"}, "mark": {"type": "line", "color": "#5B9BD5", "strokeWidth": 1.5},
    "encoding": {"x": {"field": "obs", "type": "quantitative"}, "y": {"field": "fit", "type": "quantitative"}}},
   {"data": {"values": [{}]}, "mark": {"type": "text", "text": "EC-M5Tree-Model3", "font": "Liberation Serif", "fontSize": 31.8, "color": "#595959", "align": "left", "baseline": "middle"},
    "encoding": {"x": {"datum": -1447, "type": "quantitative"}, "y": {"datum": 6361, "type": "quantitative"}}},
   {"data": {"values": [{}]}, "mark": {"type": "text", "text": ["y = 0.9884x", "R² = 0.9193"], "font": "Lato", "fontSize": 21, "lineHeight": 28, "color": "#595959", "align": "center", "baseline": "middle"},
    "encoding": {"x": {"datum": 4868, "type": "quantitative"}, "y": {"datum": 5817, "type": "quantitative"}}}
  ]},
 {"width": 1, "height": 1, "data": {"values": []}, "mark": "point"},

 {"width": 41, "height": 208, "data": {"values": [{"t": "c)"}]}, "mark": {"type": "text", "font": "Liberation Serif", "fontSize": 28, "color": "#000000", "baseline": "middle", "dy": -19}, "encoding": {"text": {"field": "t"}}},
 {"width": 172, "height": 208, "data": {"values": [{"t": "Figure 2- Graph of observed and predicted values of EC parameter using M5Tree"}]}, "mark": {"type": "text", "font": "Liberation Serif", "fontSize": 26.8, "fontWeight": "bold", "color": "#000000", "align": "left", "baseline": "middle", "dy": 14}, "encoding": {"text": {"field": "t"}}},
 {"width": 1, "height": 1, "data": {"values": []}, "mark": "point"},
 {"width": 1, "height": 1, "data": {"values": []}, "mark": "point"},
 {"width": 1, "height": 1, "data": {"values": []}, "mark": "point"},

 {"width": 1, "height": 40, "data": {"values": []}, "mark": "point"},
 {"width": 1, "height": 1, "data": {"values": []}, "mark": "point"},
 {"width": 1, "height": 1, "data": {"values": []}, "mark": "point"},
 {"width": 1, "height": 1, "data": {"values": []}, "mark": "point"},
 {"width": 1, "height": 1, "data": {"values": []}, "mark": "point"},

 {"width": 1, "height": 1, "data": {"values": []}, "mark": "point"},
 {"width": 529, "height": 319,
  "layer": [
   {"data": {"values": [{}]}, "mark": {"type": "rule", "color": "#d9d9d9", "strokeWidth": 1.3}, "encoding": {"x": {"datum": 0, "type": "quantitative"}, "x2": {"datum": 339}, "y": {"datum": 0, "type": "quantitative"}}},
   {"data": {"values": [{}]}, "mark": {"type": "rule", "color": "#868686", "strokeWidth": 1.3}, "encoding": {"x": {"datum": 0, "type": "quantitative"}, "y": {"datum": 0, "type": "quantitative"}, "y2": {"datum": 25}}},
   {"data": {"name": "d"}, "mark": {"type": "line", "color": "#C55A11", "strokeWidth": 2.5},
    "encoding": {
     "x": {"field": "idx", "type": "quantitative", "scale": {"domain": [0, 339], "nice": false, "zero": false},
       "axis": {"values": [1,20,39,58,77,96,115,134,153,172,191,210,229,248,267,286,305,324], "tickCount": 60, "labelAngle": -90, "labelAlign": "right", "labelBaseline": "middle", "labelPadding": 12, "labelOverlap": false, "labelFlush": false, "labelBound": false, "title": null}},
     "y": {"field": "sm", "type": "quantitative", "scale": {"domain": [0, 28.38], "nice": false, "zero": false}, "axis": {"values": [0,5,10,15,20,25], "tickCount": 20, "title": null}}}},
   {"data": {"name": "d"}, "mark": {"type": "point", "shape": "circle", "filled": true, "size": 85, "opacity": 1, "color": "#ED7D31", "strokeWidth": 0},
    "encoding": {"x": {"field": "idx", "type": "quantitative"}, "y": {"field": "sm", "type": "quantitative"}}},
   {"data": {"name": "d"}, "mark": {"type": "line", "color": "#2E75B6", "strokeWidth": 1.5},
    "encoding": {"x": {"field": "idx", "type": "quantitative"}, "y": {"field": "sar", "type": "quantitative"}}},
   {"data": {"name": "d"}, "mark": {"type": "point", "shape": "diamond", "filled": true, "size": 36, "opacity": 1, "color": "#000000", "stroke": "#00B0F0", "strokeWidth": 1.2},
    "encoding": {"x": {"field": "idx", "type": "quantitative"}, "y": {"field": "sar", "type": "quantitative"}}},
   {"data": {"values": []}, "mark": {"type": "point", "filled": true, "opacity": 1, "strokeWidth": 2.5},
    "encoding": {
     "shape": {"field": "s", "type": "nominal", "scale": {"domain": ["M5Tree", "Observed"], "range": ["M-1,0L1,0M0.15,0A0.15,0.15,0,1,1,-0.15,0A0.15,0.15,0,1,1,0.15,0Z", "M-1,0L1,0M0,-0.19L0.19,0L0,0.19L-0.19,0Z"]},
       "legend": {"title": null, "orient": "none", "legendX": 366.5, "legendY": 18.5, "direction": "vertical", "clipHeight": 35, "symbolSize": 2401}},
     "fill": {"field": "s", "type": "nominal", "scale": {"domain": ["M5Tree", "Observed"], "range": ["#ED7D31", "#000000"]}},
     "stroke": {"field": "s", "type": "nominal", "scale": {"domain": ["M5Tree", "Observed"], "range": ["#C55A11", "#5B9BD5"]}}}},
   {"data": {"values": [{}]}, "mark": {"type": "text", "text": "SAR-M5Tree-Model1", "font": "Liberation Serif", "fontSize": 31.8, "color": "#595959", "align": "left", "baseline": "middle"},
    "encoding": {"x": {"datum": 33.96, "type": "quantitative"}, "y": {"datum": 25.71, "type": "quantitative"}}}
  ]},
 {"width": 1, "height": 1, "data": {"values": []}, "mark": "point"},
 {"width": 502, "height": 264,
  "layer": [
   {"data": {"values": [{}]}, "mark": {"type": "rule", "color": "#d9d9d9", "strokeWidth": 1.3}, "encoding": {"x": {"datum": 0, "type": "quantitative"}, "x2": {"datum": 25}, "y": {"datum": 0, "type": "quantitative"}}},
   {"data": {"values": [{}]}, "mark": {"type": "rule", "color": "#d9d9d9", "strokeWidth": 1.3}, "encoding": {"x": {"datum": 0, "type": "quantitative"}, "y": {"datum": 0, "type": "quantitative"}, "y2": {"datum": 25}}},
   {"data": {"name": "d"}, "mark": {"type": "point", "shape": "diamond", "filled": true, "color": "#5B9BD5", "size": 42, "opacity": 1},
    "encoding": {
     "x": {"field": "sar", "type": "quantitative", "scale": {"domain": [-5.911, 25], "nice": false, "zero": false}, "axis": {"values": [0,5,10,15,20,25], "tickCount": 20, "title": "Observed", "titleFontSize": 26, "titleX": 298, "titleY": 70, "titleBaseline": "middle", "titleAlign": "center", "labelPadding": 21, "labelFlush": false}},
     "y": {"field": "sm", "type": "quantitative", "scale": {"domain": [0, 33.5], "nice": false, "zero": false}, "axis": {"values": [0,5,10,15,20,25], "tickCount": 20, "title": "Estimated by Model", "titleFontSize": 26.3, "titleX": -88, "titleY": 153, "titleBaseline": "middle", "titleAlign": "center", "offset": -96}}}},
   {"data": {"name": "ta"}, "mark": {"type": "line", "color": "#5B9BD5", "strokeWidth": 1.5},
    "encoding": {"x": {"field": "obs", "type": "quantitative"}, "y": {"field": "fit", "type": "quantitative"}}},
   {"data": {"values": [{}]}, "mark": {"type": "text", "text": "SAR-M5Tree-Model1", "font": "Liberation Serif", "fontSize": 31.8, "color": "#595959", "align": "left", "baseline": "middle"},
    "encoding": {"x": {"datum": -3.818, "type": "quantitative"}, "y": {"datum": 30.96, "type": "quantitative"}}},
   {"data": {"values": [{}]}, "mark": {"type": "text", "text": ["y = 0.9962x", "R² = 0.9955"], "font": "Lato", "fontSize": 21, "lineHeight": 30, "color": "#595959", "align": "center", "baseline": "middle"},
    "encoding": {"x": {"datum": 22.66, "type": "quantitative"}, "y": {"datum": 26.02, "type": "quantitative"}}}
  ]},
 {"width": 1, "height": 1, "data": {"values": []}, "mark": "point"},

 {"width": 41, "height": 97, "data": {"values": [{"t": "a)"}]}, "mark": {"type": "text", "font": "Liberation Serif", "fontSize": 28, "color": "#000000", "baseline": "middle", "dy": 32}, "encoding": {"text": {"field": "t"}}},
 {"width": 1, "height": 1, "data": {"values": []}, "mark": "point"},
 {"width": 1, "height": 1, "data": {"values": []}, "mark": "point"},
 {"width": 1, "height": 1, "data": {"values": []}, "mark": "point"},
 {"width": 1, "height": 1, "data": {"values": []}, "mark": "point"}
]
}
